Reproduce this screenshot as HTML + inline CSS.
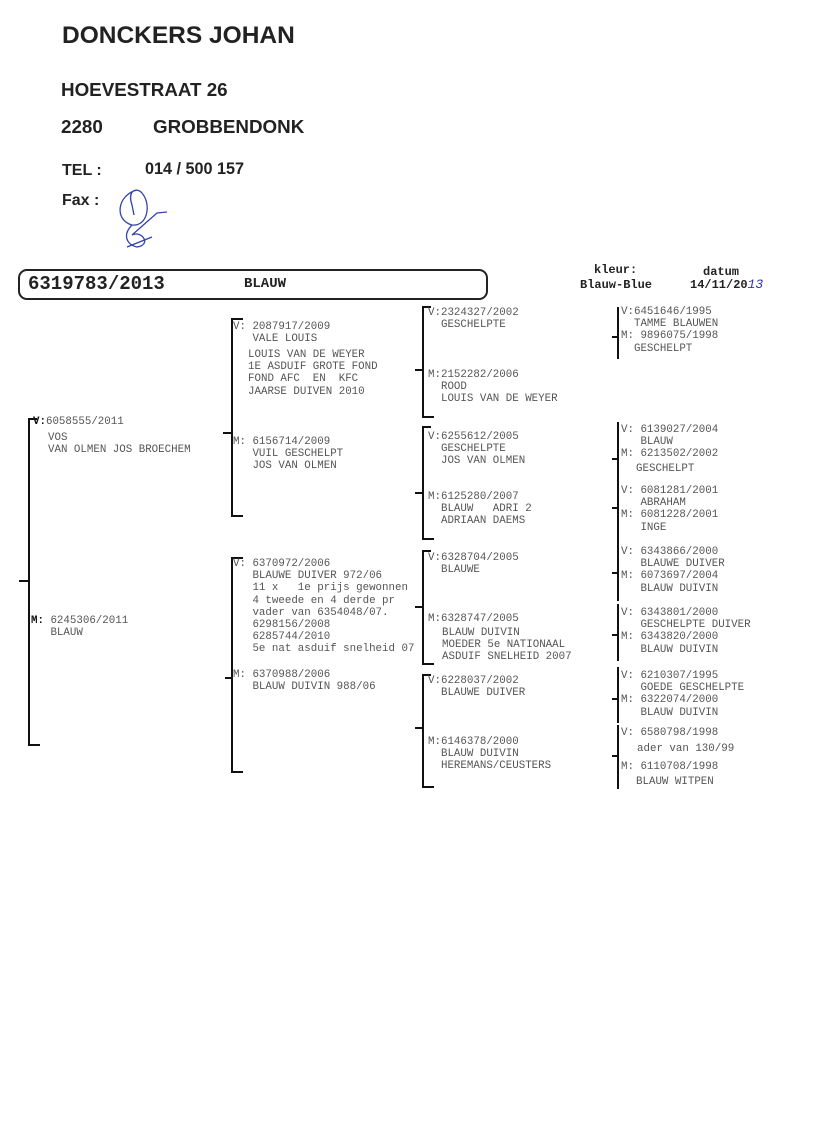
<!DOCTYPE html>
<html><head><meta charset="utf-8"><style>
body{margin:0;width:816px;height:1131px;background:#fff;position:relative;overflow:hidden;font-family:"Liberation Mono",monospace;}
.h{position:absolute;font-family:"Liberation Sans",sans-serif;font-weight:bold;color:#222;}
.t{position:absolute;font-size:10.8px;line-height:12.2px;color:#555;white-space:pre;}
.l{position:absolute;background:#111;}
</style></head><body>
<div class="h" style="left:62px;top:22px;font-size:24.5px">DONCKERS JOHAN</div>
<div class="h" style="left:61px;top:79px;font-size:18.8px">HOEVESTRAAT 26</div>
<div class="h" style="left:61px;top:116px;font-size:18.8px">2280</div>
<div class="h" style="left:153px;top:116px;font-size:18.8px">GROBBENDONK</div>
<div class="h" style="left:62px;top:162px;font-size:16px">TEL :</div>
<div class="h" style="left:145px;top:160px;font-size:16.2px">014 / 500 157</div>
<div class="h" style="left:62px;top:192px;font-size:16px">Fax :</div>
<svg style="position:absolute;left:112px;top:185px" width="60" height="70"><g fill="none" stroke="#3344aa" stroke-width="1.3"><path d="M25 5 C5 10 2 35 20 40 C35 42 40 20 30 8 C25 2 15 5 20 20 L22 30"/><path d="M20 40 C10 50 15 60 25 62 C40 60 30 45 20 50 L45 28 L55 27"/><path d="M15 62 L40 52"/></g></svg>
<div style="position:absolute;left:18px;top:269px;width:466px;height:27px;border:2px solid #222;border-radius:9px"></div>
<div class="h" style="left:28px;top:273px;font-family:'Liberation Mono',monospace;font-size:19px;color:#222">6319783/2013</div>
<div class="h" style="left:244px;top:276px;font-family:'Liberation Mono',monospace;font-size:14px">BLAUW</div>
<div class="h" style="left:594px;top:263px;font-family:'Liberation Mono',monospace;font-size:12px">kleur:</div>
<div class="h" style="left:580px;top:278px;font-family:'Liberation Mono',monospace;font-size:12px">Blauw-Blue</div>
<div class="h" style="left:703px;top:265px;font-family:'Liberation Mono',monospace;font-size:12px">datum</div>
<div class="h" style="left:690px;top:277px;font-family:'Liberation Mono',monospace;font-size:12px">14/11/20<span style="color:#33a;font-style:italic;font-weight:normal;font-size:13px">13</span></div>

<!-- gen1 -->
<div class="l" style="left:28px;top:418px;width:2px;height:328px"></div>
<div class="l" style="left:28px;top:418px;width:9px;height:2px"></div>
<div class="l" style="left:28px;top:744px;width:12px;height:2px"></div>
<div class="l" style="left:19px;top:580px;width:10px;height:2px"></div>
<!-- gen2 -->
<div class="l" style="left:231px;top:318px;width:2px;height:199px"></div>
<div class="l" style="left:231px;top:318px;width:12px;height:2px"></div>
<div class="l" style="left:231px;top:515px;width:12px;height:2px"></div>
<div class="l" style="left:223px;top:432px;width:9px;height:2px"></div>
<div class="l" style="left:231px;top:557px;width:2px;height:216px"></div>
<div class="l" style="left:231px;top:557px;width:12px;height:2px"></div>
<div class="l" style="left:231px;top:771px;width:12px;height:2px"></div>
<div class="l" style="left:225px;top:677px;width:7px;height:2px"></div>
<!-- gen3 -->
<div class="l" style="left:422px;top:306px;width:2px;height:112px"></div><div class="l" style="left:422px;top:306px;width:9px;height:2px"></div><div class="l" style="left:422px;top:416px;width:12px;height:2px"></div><div class="l" style="left:415px;top:369px;width:8px;height:2px"></div>
<div class="l" style="left:422px;top:426px;width:2px;height:114px"></div><div class="l" style="left:422px;top:426px;width:9px;height:2px"></div><div class="l" style="left:422px;top:538px;width:12px;height:2px"></div><div class="l" style="left:415px;top:492px;width:8px;height:2px"></div>
<div class="l" style="left:422px;top:550px;width:2px;height:115px"></div><div class="l" style="left:422px;top:550px;width:9px;height:2px"></div><div class="l" style="left:422px;top:663px;width:12px;height:2px"></div><div class="l" style="left:415px;top:606px;width:8px;height:2px"></div>
<div class="l" style="left:422px;top:674px;width:2px;height:114px"></div><div class="l" style="left:422px;top:674px;width:9px;height:2px"></div><div class="l" style="left:422px;top:786px;width:12px;height:2px"></div><div class="l" style="left:415px;top:727px;width:8px;height:2px"></div>
<!-- gen4 -->
<div class="l" style="left:617px;top:307px;width:2px;height:52px"></div><div class="l" style="left:612px;top:336px;width:6px;height:2px"></div>
<div class="l" style="left:617px;top:422px;width:2px;height:62px"></div><div class="l" style="left:612px;top:458px;width:6px;height:2px"></div>
<div class="l" style="left:617px;top:483px;width:2px;height:63px"></div><div class="l" style="left:612px;top:507px;width:6px;height:2px"></div>
<div class="l" style="left:617px;top:543px;width:2px;height:58px"></div><div class="l" style="left:612px;top:572px;width:6px;height:2px"></div>
<div class="l" style="left:617px;top:604px;width:2px;height:57px"></div><div class="l" style="left:612px;top:634px;width:6px;height:2px"></div>
<div class="l" style="left:617px;top:667px;width:2px;height:56px"></div><div class="l" style="left:612px;top:698px;width:6px;height:2px"></div>
<div class="l" style="left:617px;top:725px;width:2px;height:64px"></div><div class="l" style="left:612px;top:755px;width:6px;height:2px"></div>

<!-- text gen1 -->
<div class="t" style="left:33px;top:416px"><b style="color:#111">V:</b>6058555/2011</div>
<div class="t" style="left:48px;top:432px">VOS
VAN OLMEN JOS BROECHEM</div>
<div class="t" style="left:31px;top:615px"><b style="color:#111">M:</b> 6245306/2011
   BLAUW</div>
<!-- gen2 -->
<div class="t" style="left:233px;top:321px">V: 2087917/2009
   VALE LOUIS</div>
<div class="t" style="left:248px;top:349px">LOUIS VAN DE WEYER
1E ASDUIF GROTE FOND
FOND AFC  EN  KFC
JAARSE DUIVEN 2010</div>
<div class="t" style="left:233px;top:436px">M: 6156714/2009
   VUIL GESCHELPT
   JOS VAN OLMEN</div>
<div class="t" style="left:233px;top:558px">V: 6370972/2006
   BLAUWE DUIVER 972/06
   11 x   1e prijs gewonnen
   4 tweede en 4 derde pr
   vader van 6354048/07.
   6298156/2008
   6285744/2010
   5e nat asduif snelheid 07</div>
<div class="t" style="left:233px;top:669px">M: 6370988/2006
   BLAUW DUIVIN 988/06</div>
<!-- gen3 -->
<div class="t" style="left:428px;top:307px">V:2324327/2002
  GESCHELPTE</div>
<div class="t" style="left:428px;top:369px">M:2152282/2006
  ROOD
  LOUIS VAN DE WEYER</div>
<div class="t" style="left:428px;top:431px">V:6255612/2005
  GESCHELPTE
  JOS VAN OLMEN</div>
<div class="t" style="left:428px;top:491px">M:6125280/2007
  BLAUW   ADRI 2
  ADRIAAN DAEMS</div>
<div class="t" style="left:428px;top:552px">V:6328704/2005
  BLAUWE</div>
<div class="t" style="left:428px;top:613px">M:6328747/2005</div>
<div class="t" style="left:442px;top:627px">BLAUW DUIVIN
MOEDER 5e NATIONAAL
ASDUIF SNELHEID 2007</div>
<div class="t" style="left:428px;top:675px">V:6228037/2002
  BLAUWE DUIVER</div>
<div class="t" style="left:428px;top:736px">M:6146378/2000
  BLAUW DUIVIN
  HEREMANS/CEUSTERS</div>
<!-- gen4 -->
<div class="t" style="left:621px;top:306px">V:6451646/1995
  TAMME BLAUWEN
M: 9896075/1998
  GESCHELPT</div>
<div class="t" style="left:621px;top:424px">V: 6139027/2004
   BLAUW
M: 6213502/2002</div>
<div class="t" style="left:636px;top:463px">GESCHELPT</div>
<div class="t" style="left:621px;top:485px">V: 6081281/2001
   ABRAHAM
M: 6081228/2001
   INGE</div>
<div class="t" style="left:621px;top:546px">V: 6343866/2000
   BLAUWE DUIVER
M: 6073697/2004
   BLAUW DUIVIN</div>
<div class="t" style="left:621px;top:607px">V: 6343801/2000
   GESCHELPTE DUIVER
M: 6343820/2000
   BLAUW DUIVIN</div>
<div class="t" style="left:621px;top:670px">V: 6210307/1995
   GOEDE GESCHELPTE
M: 6322074/2000
   BLAUW DUIVIN</div>
<div class="t" style="left:621px;top:727px">V: 6580798/1998</div>
<div class="t" style="left:637px;top:743px">ader van 130/99</div>
<div class="t" style="left:621px;top:761px">M: 6110708/1998</div>
<div class="t" style="left:636px;top:776px">BLAUW WITPEN</div>
</body></html>
